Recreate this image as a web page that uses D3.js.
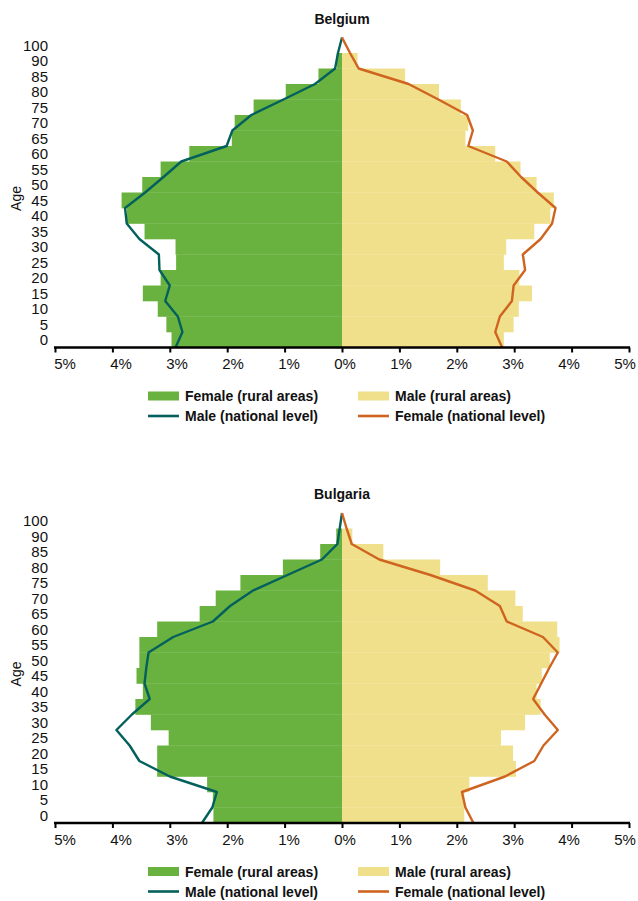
<!DOCTYPE html>
<html>
<head>
<meta charset="utf-8">
<script src="https://cdn.jsdelivr.net/npm/d3@7"></script>
<style>
  body { margin: 0; background: #fff; }
  svg { display: block; }
  text { font-family: "Liberation Sans", Arial, sans-serif; fill: #111; }
</style>
</head>
<body>
<div class="chart"></div>
<script>
// age groups (bottom to top)
var ageLabels = ["0", "5", "10", "15", "20", "25", "30", "35", "40", "45",
                 "50", "55", "60", "65", "70", "75", "80", "85", "90", "100"];
var xTicks = [-5, -4, -3, -2, -1, 0, 1, 2, 3, 4, 5];

// Belgium, % of population per age group
var belgiumFemaleRural = [2.97, 3.06, 3.21, 3.47, 3.16, 2.89, 2.90, 3.44, 3.75, 3.84,
                          3.48, 3.16, 2.66, 1.92, 1.87, 1.54, 0.98, 0.41, 0.09, 0];
var belgiumMaleRural   = [2.82, 2.99, 3.08, 3.31, 3.09, 2.82, 2.86, 3.35, 3.63, 3.69,
                          3.39, 3.11, 2.67, 2.15, 2.20, 2.07, 1.69, 1.10, 0.27, 0];
// national lines, one value per group edge (21 points)
var belgiumMaleNational   = [2.90, 2.78, 2.86, 3.08, 3.00, 3.18, 3.19, 3.53, 3.75, 3.78,
                             3.43, 3.11, 2.80, 2.01, 1.91, 1.58, 1.02, 0.47, 0.12, 0.07, 0];
var belgiumFemaleNational = [2.79, 2.67, 2.75, 2.96, 2.99, 3.19, 3.15, 3.46, 3.66, 3.72,
                             3.41, 3.12, 2.87, 2.20, 2.28, 2.18, 1.68, 1.16, 0.29, 0.14, 0];

// Bulgaria
var bulgariaFemaleRural = [2.24, 2.25, 2.35, 3.22, 3.22, 3.02, 3.33, 3.60, 3.47, 3.58,
                           3.53, 3.53, 3.22, 2.48, 2.20, 1.77, 1.03, 0.38, 0.10, 0];
var bulgariaMaleRural   = [2.13, 2.13, 2.22, 3.03, 2.98, 2.77, 3.19, 3.46, 3.39, 3.48,
                           3.62, 3.79, 3.75, 3.15, 3.02, 2.54, 1.71, 0.72, 0.18, 0];
var bulgariaMaleNational   = [2.44, 2.26, 2.18, 3.00, 3.53, 3.70, 3.93, 3.66, 3.35, 3.44,
                              3.41, 3.37, 2.94, 2.25, 1.95, 1.55, 0.95, 0.35, 0.08, 0.04, 0];
var bulgariaFemaleNational = [2.29, 2.15, 2.09, 2.84, 3.35, 3.51, 3.76, 3.53, 3.33, 3.47,
                              3.61, 3.76, 3.50, 2.87, 2.75, 2.32, 1.54, 0.65, 0.17, 0.08, 0];

var legendLabels = ["Female (rural areas)", "Male (rural areas)",
                    "Male (national level)", "Female (national level)"];

var width = 638, height = 901;
var green = "#6ab23f", yellow = "#f0e08b", teal = "#04605c", orange = "#cf6420";

var svg = d3.select(".chart")
    .append("svg")
    .attr("width", width)
    .attr("height", height);

var x = d3.scaleLinear().domain([-5, 5]).range([55, 629]);
// tick labels sit on a slightly tighter spread than the tick marks
var xLab = d3.scaleLinear().domain([-5, 5]).range([64.5, 624.5]);

function drawPyramid(title, axisY, femaleRural, maleRural, maleNat, femaleNat) {
    var rowH = 15.5;
    var g = svg.append("g");

    var y = d3.scaleBand()
        .domain(ageLabels)
        .range([axisY, axisY - rowH * ageLabels.length])
        .padding(0);

    // line points sit on the group edges
    var yEdge = d3.scaleLinear()
        .domain([0, ageLabels.length])
        .range([axisY, axisY - rowH * ageLabels.length]);

    // female rural (left)
    g.append("g").selectAll("rect")
        .data(femaleRural)
        .enter().append("rect")
        .attr("x", function (d) { return x(-d); })
        .attr("y", function (d, i) { return y(ageLabels[i]); })
        .attr("width", function (d) { return x(0) - x(-d); })
        .attr("height", y.bandwidth() + 0.3)
        .attr("fill", green);

    // male rural (right)
    g.append("g").selectAll("rect")
        .data(maleRural)
        .enter().append("rect")
        .attr("x", x(0))
        .attr("y", function (d, i) { return y(ageLabels[i]); })
        .attr("width", function (d) { return x(d) - x(0); })
        .attr("height", y.bandwidth() + 0.3)
        .attr("fill", yellow);

    var lineLeft = d3.line()
        .x(function (d) { return x(-d); })
        .y(function (d, i) { return yEdge(i); });
    var lineRight = d3.line()
        .x(function (d) { return x(d); })
        .y(function (d, i) { return yEdge(i); });

    g.append("path")
        .attr("d", lineLeft(maleNat))
        .attr("fill", "none")
        .attr("stroke", teal)
        .attr("stroke-width", 2.4)
        .attr("stroke-linejoin", "round");

    g.append("path")
        .attr("d", lineRight(femaleNat))
        .attr("fill", "none")
        .attr("stroke", orange)
        .attr("stroke-width", 2.4)
        .attr("stroke-linejoin", "round");

    // x axis
    var xAxis = d3.axisBottom(x)
        .tickValues(xTicks)
        .tickSize(5)
        .tickPadding(6)
        .tickFormat(function (d) { return Math.abs(d) + "%"; });

    var ax = g.append("g")
        .attr("transform", "translate(0," + axisY + ")")
        .call(xAxis);
    ax.select(".domain")
        .attr("d", "M" + (x(-5) - 1) + ",0H" + (x(5) + 1))
        .attr("stroke", "#000")
        .attr("stroke-width", 2.6);
    ax.selectAll(".tick line").attr("stroke", "#000").attr("stroke-width", 2);
    ax.selectAll(".tick text")
        .attr("x", function (d) { return xLab(d) - x(d); })
        .style("font-size", "15px")
        .attr("fill", "#111");

    // age labels
    g.append("g").selectAll("text")
        .data(ageLabels)
        .enter().append("text")
        .attr("x", 48)
        .attr("y", function (d) { return y(d) + y.bandwidth() / 2; })
        .attr("dy", "0.36em")
        .attr("text-anchor", "end")
        .style("font-size", "15px")
        .text(function (d) { return d; });

    g.append("text")
        .attr("transform", "translate(21," + (axisY - 149) + ") rotate(-90)")
        .attr("text-anchor", "middle")
        .style("font-size", "14px")
        .text("Age");

    g.append("text")
        .attr("x", x(0))
        .attr("y", axisY - 324)
        .attr("text-anchor", "middle")
        .style("font-size", "14px")
        .style("font-weight", "bold")
        .text(title);

    // legend
    var items = [
        { label: legendLabels[0], color: green, kind: "rect", col: 0, row: 0 },
        { label: legendLabels[1], color: yellow, kind: "rect", col: 1, row: 0 },
        { label: legendLabels[2], color: teal, kind: "line", col: 0, row: 1 },
        { label: legendLabels[3], color: orange, kind: "line", col: 1, row: 1 }
    ];
    var leg = g.append("g").selectAll("g")
        .data(items)
        .enter().append("g")
        .attr("transform", function (d) {
            return "translate(" + (148 + d.col * 210) + "," + (axisY + 48.5 + d.row * 20) + ")";
        });
    leg.filter(function (d) { return d.kind === "rect"; })
        .append("rect")
        .attr("x", 0).attr("y", -4.5)
        .attr("width", 31).attr("height", 9)
        .attr("fill", function (d) { return d.color; });
    leg.filter(function (d) { return d.kind === "line"; })
        .append("line")
        .attr("x1", 0).attr("x2", 31)
        .attr("stroke", function (d) { return d.color; })
        .attr("stroke-width", 2.6);
    leg.append("text")
        .attr("x", 37)
        .attr("dy", "0.36em")
        .style("font-size", "14px")
        .style("font-weight", "bold")
        .text(function (d) { return d.label; });
}

drawPyramid("Belgium", 347.5, belgiumFemaleRural, belgiumMaleRural,
            belgiumMaleNational, belgiumFemaleNational);
drawPyramid("Bulgaria", 823, bulgariaFemaleRural, bulgariaMaleRural,
            bulgariaMaleNational, bulgariaFemaleNational);
</script>
</body>
</html>
